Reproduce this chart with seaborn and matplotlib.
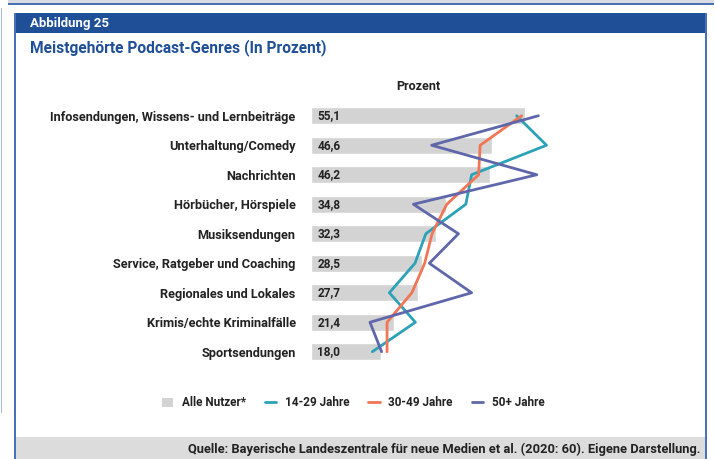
import matplotlib
matplotlib.use("Agg")
import matplotlib.pyplot as plt
from matplotlib.patches import Rectangle
from matplotlib.lines import Line2D
import seaborn as sns
import pandas as pd

### DATA ###
genres = ["Infosendungen, Wissens- und Lernbeiträge", "Unterhaltung/Comedy", "Nachrichten",
          "Hörbücher, Hörspiele", "Musiksendungen", "Service, Ratgeber und Coaching",
          "Regionales und Lokales", "Krimis/echte Kriminalfälle", "Sportsendungen"]
alle = [55.1, 46.6, 46.2, 34.8, 32.3, 28.5, 27.7, 21.4, 18.0]
j14_29 = [53.0, 60.7, 41.4, 39.9, 29.6, 26.8, 20.2, 26.9, 15.8]
j30_49 = [54.3, 43.6, 43.2, 35.0, 31.2, 29.3, 26.0, 19.6, 19.6]
j50plus = [58.6, 31.1, 58.2, 26.4, 38.0, 30.5, 41.4, 15.2, 18.2]
series = {"14-29 Jahre": j14_29, "30-49 Jahre": j30_49, "50+ Jahre": j50plus}
colors = {"14-29 Jahre": "#2ba2b8", "30-49 Jahre": "#f07656", "50+ Jahre": "#5f67aa"}

sns.set_style("white")
plt.rcParams["font.family"] = ["Roboto", "DejaVu Sans"]

W, H = 717, 459
fig = plt.figure(figsize=(W / 100, H / 100), dpi=100)

def px(x, y, w, h):
    # pixel box (from top-left) -> figure fraction
    return (x / W, 1 - (y + h) / H, w / W, h / H)

def box(x, y, w, h, color, z=0):
    l, b, ww, hh = px(x, y, w, h)
    fig.add_artist(Rectangle((l, b), ww, hh, transform=fig.transFigure,
                             facecolor=color, edgecolor="none", zorder=z))

# frame pieces
box(8, 0, 706, 4, "#d9dde3")
box(8, 3, 706, 1.5, "#4a6fb0")
box(14, 13, 693, 20, "#1f4f96")
box(14, 437, 692, 22, "#dcdcdc")
box(13.5, 13, 2, 446, "#4a72b8")
box(705, 13, 2, 446, "#4a72b8")
box(0.5, 8, 1.5, 405, "#a8b8d8")

fig.text(30 / W, 1 - 23 / H, "Abbildung 25", color="white", fontsize=9.5,
         fontweight="bold", va="center", ha="left")
fig.text(30 / W, 1 - 48 / H, "Meistgehörte Podcast-Genres (In Prozent)", color="#1f4f96",
         fontsize=11.2, fontweight="bold", va="center", ha="left")

### CHART ###
ax = fig.add_axes(px(311, 101, 250, 265.5))
df = pd.DataFrame({"genre": genres, "alle": alle})
sns.barplot(data=df, x="alle", y="genre", color="#d3d3d3", width=0.58,
            saturation=1, ax=ax, zorder=1)
for name, vals in series.items():
    ln = pd.DataFrame({"wert": vals, "pos": range(len(vals))})
    sns.lineplot(data=ln, x="wert", y="pos", sort=False, estimator=None,
                 color=colors[name], linewidth=2.0, ax=ax, zorder=3)
for i, v in enumerate(alle):
    ax.text(1.6, i, f"{v:.1f}".replace(".", ","), va="center", ha="left",
            fontsize=8.5, fontweight="bold", color="#222222", zorder=2)

ax.set_xlim(0, 250 / 3.88)
ax.set_ylim(8.5, -0.5)
ax.set_xlabel("")
ax.set_ylabel("")
ax.set_xticks([])
ax.set_yticks(range(len(genres)))
ax.set_yticklabels(genres, fontsize=9.2, fontweight="bold", color="#222222")
ax.tick_params(axis="y", length=0, pad=11)
sns.despine(ax=ax, left=True, bottom=True)
ax.set_facecolor("none")

fig.text(418 / W, 1 - 86 / H, "Prozent", fontsize=9, fontweight="bold",
         ha="center", va="center", color="#222222")

handles = [Rectangle((0, 0), 1, 1, facecolor="#d3d3d3", edgecolor="none")]
labels = ["Alle Nutzer*"]
for name in series:
    handles.append(Line2D([], [], color=colors[name], linewidth=2.0))
    labels.append(name)
leg = fig.legend(handles, labels, ncol=4, loc="center", bbox_to_anchor=(353 / W, 1 - 403 / H),
                 frameon=False, handlelength=1.0, handleheight=0.8, columnspacing=1.6,
                 handletextpad=0.7, prop={"size": 8.5, "weight": "bold"})
for t in leg.get_texts():
    t.set_color("#222222")

fig.text(700 / W, 1 - 449 / H,
         "Quelle: Bayerische Landeszentrale für neue Medien et al. (2020: 60). Eigene Darstellung.",
         fontsize=9.3, fontweight="bold", ha="right", va="center", color="#222222")

fig.savefig("out.png", dpi=100)
